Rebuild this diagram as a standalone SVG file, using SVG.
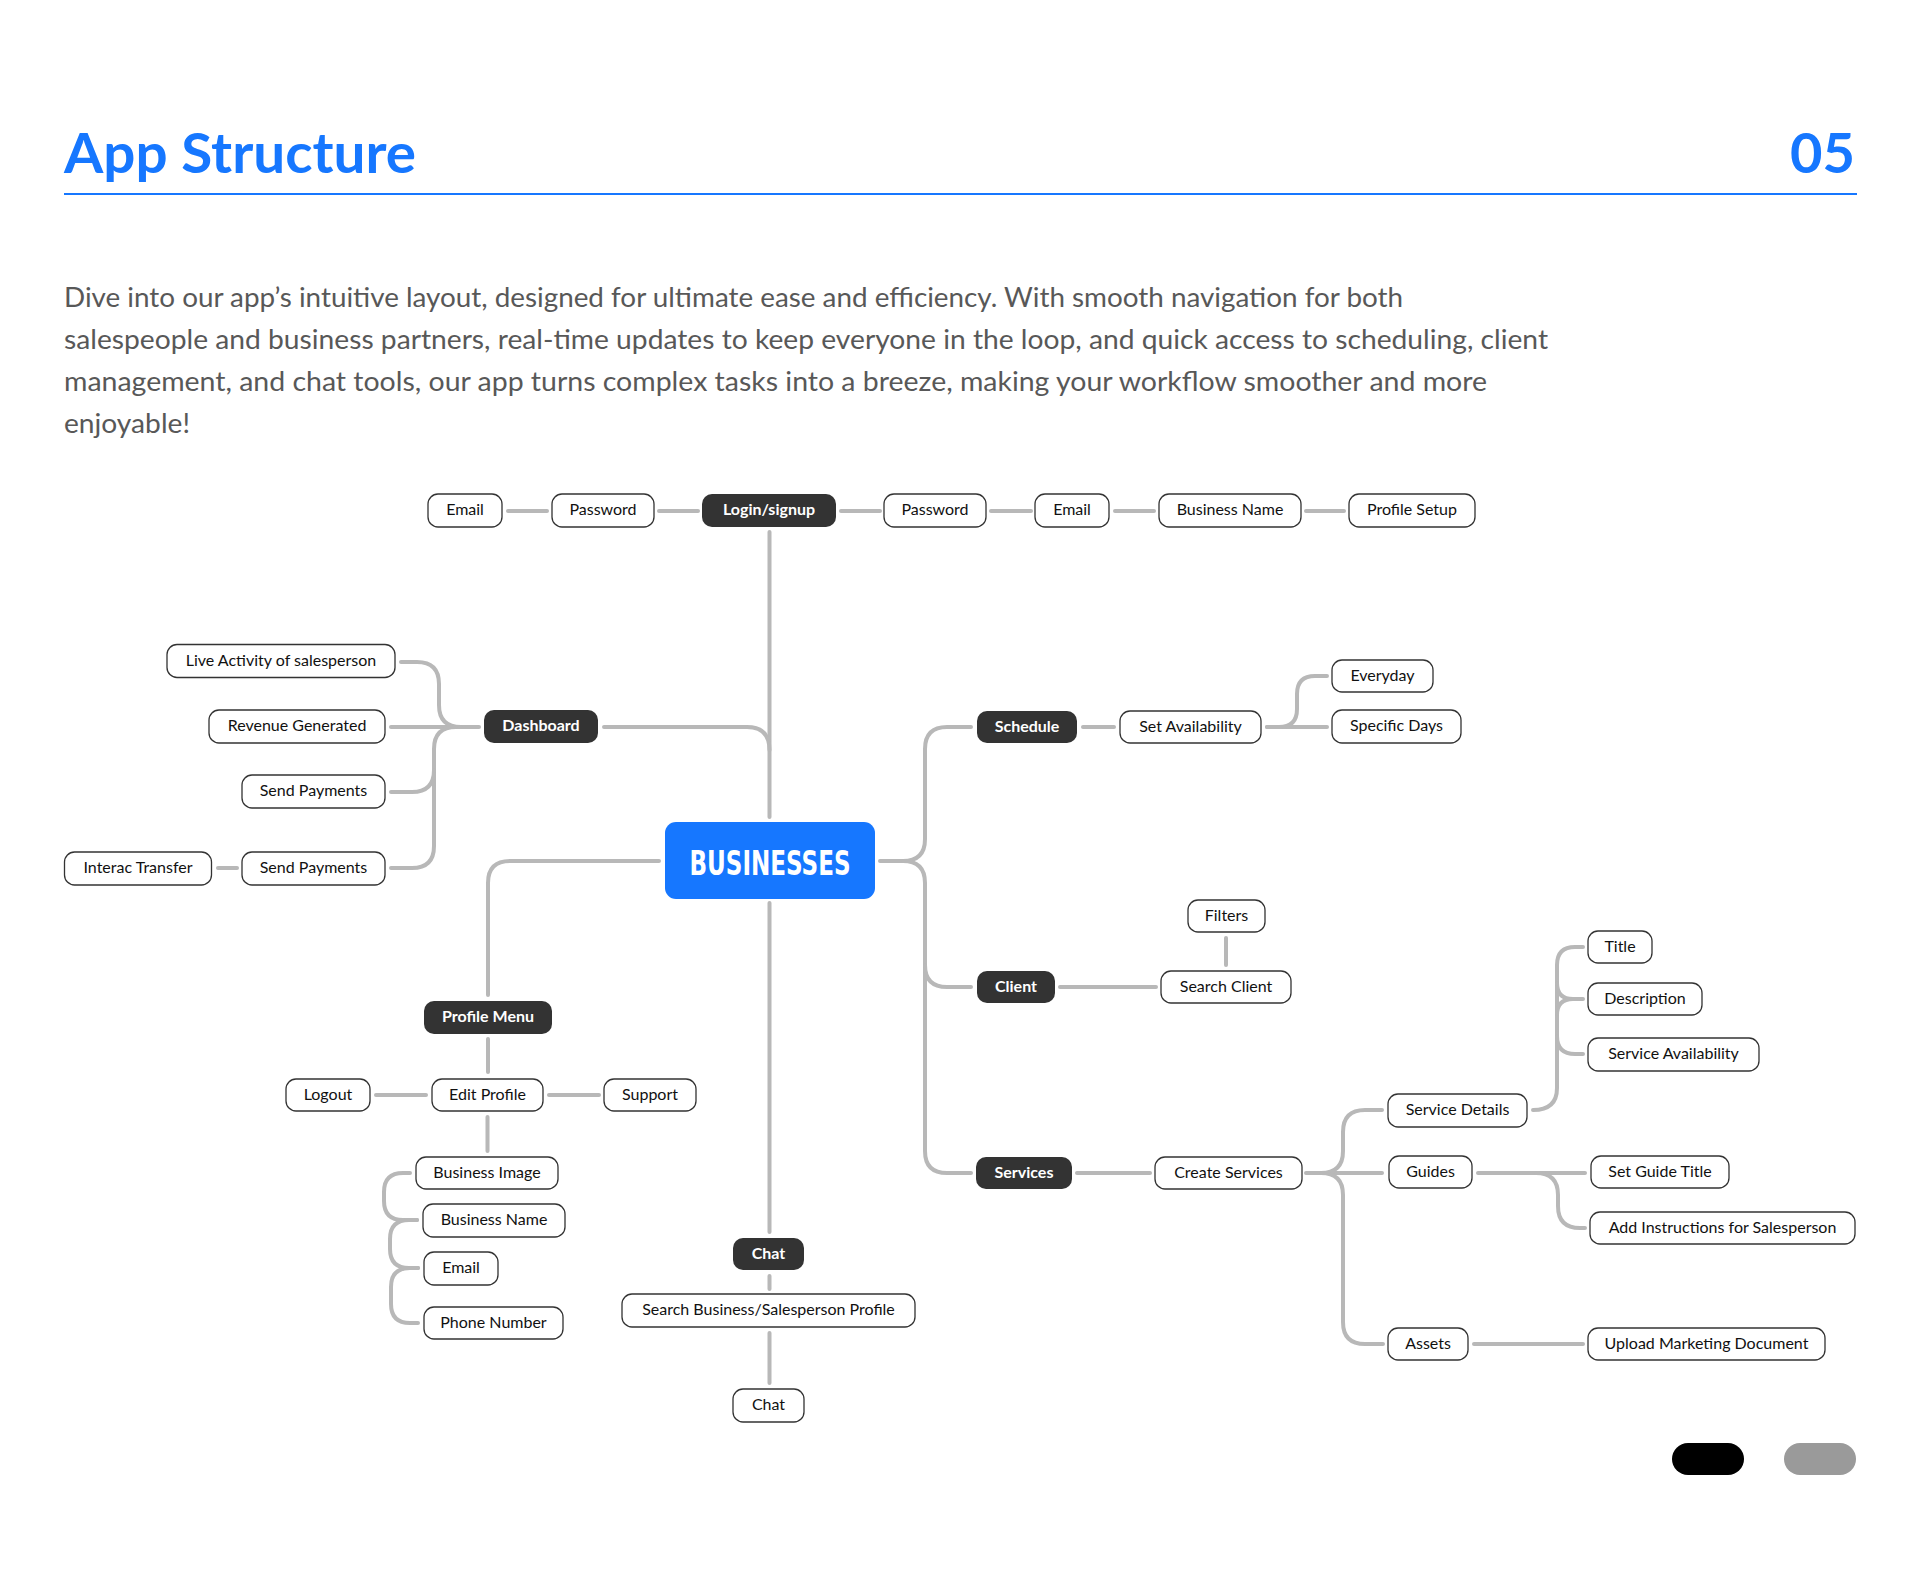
<svg xmlns="http://www.w3.org/2000/svg" width="1920" height="1596" viewBox="0 0 1920 1596">
<style>
.n rect{fill:#fff;stroke:#333;stroke-width:1.3}
.d rect{fill:#333;stroke:none}
.n text{font-family:Lato,"Noto Sans",sans-serif;font-size:16px;fill:#111;text-anchor:middle}
.d text{font-family:Lato,"Noto Sans",sans-serif;font-size:16px;font-weight:700;fill:#fff;text-anchor:middle}
#connectors path{fill:none;stroke:#b8b8b8;stroke-width:4;stroke-linecap:round;stroke-linejoin:round}
.para{font-family:Lato,"Noto Sans",sans-serif;font-size:26px;fill:#585858}
</style>
<rect width="1920" height="1596" fill="#fff"/>
<text x="64" y="173" font-family="Lato,'Noto Sans',sans-serif" font-size="56" font-weight="700" fill="#1677ff" textLength="352" lengthAdjust="spacingAndGlyphs">App Structure</text>
<text x="1855" y="173" font-family="Lato,'Noto Sans',sans-serif" font-size="56" font-weight="700" fill="#1677ff" text-anchor="end">05</text>
<rect x="64" y="193" width="1793" height="2" fill="#1677ff"/>
<text class="para" x="64" y="307" textLength="1339" lengthAdjust="spacingAndGlyphs">Dive into our app’s intuitive layout, designed for ultimate ease and efficiency. With smooth navigation for both</text>
<text class="para" x="64" y="349" textLength="1484" lengthAdjust="spacingAndGlyphs">salespeople and business partners, real-time updates to keep everyone in the loop, and quick access to scheduling, client</text>
<text class="para" x="64" y="391" textLength="1423" lengthAdjust="spacingAndGlyphs">management, and chat tools, our app turns complex tasks into a breeze, making your workflow smoother and more</text>
<text class="para" x="64" y="433" textLength="126" lengthAdjust="spacingAndGlyphs">enjoyable!</text>

<g id="connectors">
<path d="M508,511 H547"/>
<path d="M659,511 H698"/>
<path d="M841,511 H880"/>
<path d="M991,511 H1031"/>
<path d="M1115,511 H1154"/>
<path d="M1306,511 H1344"/>
<path d="M769.5,532 V817"/>
<path d="M604,727 H747 Q769.5,727 769.5,750"/>
<path d="M769.5,903 V1232"/>
<path d="M659,861 H510 Q488,861 488,883 V995"/>
<path d="M391,727 H479"/>
<path d="M401,662 H417 Q439,662 439,684 V705 Q439,727 461,727"/>
<path d="M391,868 H412 Q434,868 434,846 V749 Q434,727 456,727"/>
<path d="M391,792 H412 Q434,792 434,770"/>
<path d="M218,868 H237"/>
<path d="M880,861 H903 Q925,861 925,839 V749 Q925,727 947,727 H971"/>
<path d="M903,861 Q925,861 925,883 V1151 Q925,1173 947,1173 H971"/>
<path d="M925,965 Q925,987 947,987 H971"/>
<path d="M1083,727 H1114"/>
<path d="M1267,727 H1327"/>
<path d="M1267,727 H1279 Q1297,727 1297,709 V694 Q1297,676 1315,676 H1327"/>
<path d="M1060,987 H1156"/>
<path d="M1226,938 V965"/>
<path d="M1077,1173 H1150"/>
<path d="M1306,1173 H1382"/>
<path d="M1321,1173 Q1343,1173 1343,1151 V1132 Q1343,1110 1365,1110 H1382"/>
<path d="M1321,1173 Q1343,1173 1343,1195 V1322 Q1343,1344 1365,1344 H1383"/>
<path d="M1474,1344 H1583"/>
<path d="M1533,1110 Q1557,1110 1557,1088 V965 Q1557,947 1575,947 H1583"/>
<path d="M1557,983 Q1557,999 1573,999 H1583"/>
<path d="M1557,1015 Q1557,999 1573,999"/>
<path d="M1557,1036 Q1557,1054 1575,1054 H1583"/>
<path d="M1478,1173 H1585"/>
<path d="M1536,1173 Q1558,1173 1558,1195 V1206 Q1558,1228 1580,1228 H1585"/>
<path d="M488,1039 V1072"/>
<path d="M376,1095 H426"/>
<path d="M549,1095 H599"/>
<path d="M487.5,1117 V1151"/>
<path d="M410,1173 H403 Q384,1173 384,1192 V1201 Q384,1220 403,1220 H417"/>
<path d="M417,1220 H409 Q390,1220 390,1239 V1249 Q390,1268 409,1268 H418"/>
<path d="M418,1268 H410 Q391,1268 391,1287 V1304 Q391,1323 410,1323 H418"/>
<path d="M769.5,1276 V1289"/>
<path d="M769.5,1333 V1383"/>
</g>

<g id="n-email1" class="n"><rect x="428" y="494" width="74" height="33" rx="10"/><text x="465" y="515">Email</text></g>
<g id="n-password1" class="n"><rect x="552" y="494" width="102" height="33" rx="10"/><text x="603" y="515">Password</text></g>
<g id="n-login" class="d"><rect x="702" y="494" width="134" height="33" rx="10"/><text x="769" y="515">Login/signup</text></g>
<g id="n-password2" class="n"><rect x="884" y="494" width="102" height="33" rx="10"/><text x="935" y="515">Password</text></g>
<g id="n-email2" class="n"><rect x="1035" y="494" width="74" height="33" rx="10"/><text x="1072" y="515">Email</text></g>
<g id="n-bizname1" class="n"><rect x="1159" y="494" width="142" height="33" rx="10"/><text x="1230" y="515">Business Name</text></g>
<g id="n-profilesetup" class="n"><rect x="1349" y="494" width="126" height="33" rx="10"/><text x="1412" y="515">Profile Setup</text></g>

<g id="n-live" class="n"><rect x="167" y="644.5" width="228" height="33" rx="10"/><text x="281" y="665.5">Live Activity of salesperson</text></g>
<g id="n-revenue" class="n"><rect x="209" y="710" width="176" height="33" rx="10"/><text x="297" y="731">Revenue Generated</text></g>
<g id="n-send1" class="n"><rect x="242" y="775" width="143" height="33" rx="10"/><text x="313.5" y="796">Send Payments</text></g>
<g id="n-send2" class="n"><rect x="242" y="852" width="143" height="33" rx="10"/><text x="313.5" y="873">Send Payments</text></g>
<g id="n-interac" class="n"><rect x="64.5" y="852" width="147" height="33" rx="10"/><text x="138" y="873">Interac Transfer</text></g>
<g id="n-dashboard" class="d"><rect x="484" y="710" width="114" height="33" rx="10"/><text x="541" y="731">Dashboard</text></g>

<g id="n-businesses"><rect x="665" y="822" width="210" height="77" rx="11" fill="#1677ff"/><text x="770" y="875" font-family="'DejaVu Sans Condensed','DejaVu Sans',sans-serif" font-size="34" font-weight="700" fill="#fff" text-anchor="middle" textLength="161" lengthAdjust="spacingAndGlyphs">BUSINESSES</text></g>

<g id="n-profilemenu" class="d"><rect x="424" y="1001" width="128" height="33" rx="10"/><text x="488" y="1022">Profile Menu</text></g>
<g id="n-editprofile" class="n"><rect x="432" y="1079" width="111" height="32" rx="10"/><text x="487.5" y="1099.5">Edit Profile</text></g>
<g id="n-logout" class="n"><rect x="286" y="1079" width="84" height="32" rx="10"/><text x="328" y="1099.5">Logout</text></g>
<g id="n-support" class="n"><rect x="604" y="1079" width="92" height="32" rx="10"/><text x="650" y="1099.5">Support</text></g>
<g id="n-bizimage" class="n"><rect x="416" y="1157" width="142" height="32" rx="10"/><text x="487" y="1177.5">Business Image</text></g>
<g id="n-bizname2" class="n"><rect x="423" y="1204" width="142" height="33" rx="10"/><text x="494" y="1225">Business Name</text></g>
<g id="n-email3" class="n"><rect x="424" y="1252" width="74" height="33" rx="10"/><text x="461" y="1273">Email</text></g>
<g id="n-phone" class="n"><rect x="424" y="1307" width="139" height="32" rx="10"/><text x="493.5" y="1327.5">Phone Number</text></g>

<g id="n-chat1" class="d"><rect x="733" y="1238" width="71" height="32" rx="10"/><text x="768.5" y="1258.5">Chat</text></g>
<g id="n-searchprofile" class="n"><rect x="622" y="1294" width="293" height="33" rx="10"/><text x="768.5" y="1315">Search Business/Salesperson Profile</text></g>
<g id="n-chat2" class="n"><rect x="733" y="1389" width="71" height="33" rx="10"/><text x="768.5" y="1410">Chat</text></g>

<g id="n-schedule" class="d"><rect x="977" y="711" width="100" height="32" rx="10"/><text x="1027" y="731.5">Schedule</text></g>
<g id="n-setavail" class="n"><rect x="1120" y="711" width="141" height="32" rx="10"/><text x="1190.5" y="731.5">Set Availability</text></g>
<g id="n-everyday" class="n"><rect x="1332" y="660" width="101" height="32" rx="10"/><text x="1382.5" y="680.5">Everyday</text></g>
<g id="n-specific" class="n"><rect x="1332" y="710" width="129" height="33" rx="10"/><text x="1396.5" y="731">Specific Days</text></g>

<g id="n-client" class="d"><rect x="977" y="971" width="78" height="32" rx="10"/><text x="1016" y="991.5">Client</text></g>
<g id="n-searchclient" class="n"><rect x="1161" y="971" width="130" height="32" rx="10"/><text x="1226" y="991.5">Search Client</text></g>
<g id="n-filters" class="n"><rect x="1188" y="900" width="77" height="32" rx="10"/><text x="1226.5" y="920.5">Filters</text></g>

<g id="n-services" class="d"><rect x="976" y="1157" width="96" height="32" rx="10"/><text x="1024" y="1177.5">Services</text></g>
<g id="n-createservices" class="n"><rect x="1155" y="1157" width="147" height="32" rx="10"/><text x="1228.5" y="1177.5">Create Services</text></g>
<g id="n-servicedetails" class="n"><rect x="1388" y="1094" width="139" height="33" rx="10"/><text x="1457.5" y="1115">Service Details</text></g>
<g id="n-guides" class="n"><rect x="1389" y="1156" width="83" height="32" rx="10"/><text x="1430.5" y="1176.5">Guides</text></g>
<g id="n-assets" class="n"><rect x="1388" y="1328" width="80" height="32" rx="10"/><text x="1428" y="1348.5">Assets</text></g>
<g id="n-title" class="n"><rect x="1588" y="931" width="64" height="32" rx="10"/><text x="1620" y="951.5">Title</text></g>
<g id="n-description" class="n"><rect x="1588" y="983" width="114" height="32" rx="10"/><text x="1645" y="1003.5">Description</text></g>
<g id="n-serviceavail" class="n"><rect x="1588" y="1038" width="171" height="33" rx="10"/><text x="1673.5" y="1059">Service Availability</text></g>
<g id="n-setguide" class="n"><rect x="1591" y="1156" width="138" height="32" rx="10"/><text x="1660" y="1176.5">Set Guide Title</text></g>
<g id="n-addinstr" class="n"><rect x="1590" y="1212" width="265" height="32" rx="10"/><text x="1722.5" y="1232.5">Add Instructions for Salesperson</text></g>
<g id="n-upload" class="n"><rect x="1588" y="1328" width="237" height="32" rx="10"/><text x="1706.5" y="1348.5">Upload Marketing Document</text></g>

<rect x="1672" y="1443" width="72" height="32" rx="16" fill="#000"/>
<rect x="1784" y="1443" width="72" height="32" rx="16" fill="#9a9a9a"/>
</svg>
